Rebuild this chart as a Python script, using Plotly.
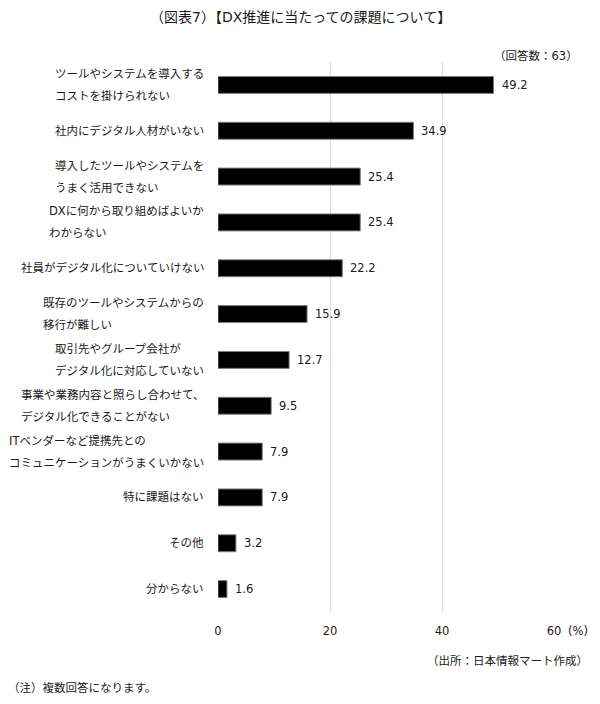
import plotly.graph_objects as go

categories = [
    "ツールやシステムを導入する\nコストを掛けられない",
    "社内にデジタル人材がいない",
    "導入したツールやシステムを\nうまく活用できない",
    "DXに何から取り組めばよいか\nわからない",
    "社員がデジタル化についていけない",
    "既存のツールやシステムからの\n移行が難しい",
    "取引先やグループ会社が\nデジタル化に対応していない",
    "事業や業務内容と照らし合わせて、\nデジタル化できることがない",
    "ITベンダーなど提携先との\nコミュニケーションがうまくいかない",
    "特に課題はない",
    "その他",
    "分からない",
]
values = [49.2, 34.9, 25.4, 25.4, 22.2, 15.9, 12.7, 9.5, 7.9, 7.9, 3.2, 1.6]
x_ticks = [0, 20, 40, 60]

FONT = "DejaVu Sans, Noto Sans CJK JP"
TXT = "#1a1a1a"
LBL = 11.5

fig = go.Figure()
fig.add_trace(go.Bar(
    y=list(range(len(values))), x=values, orientation="h",
    marker=dict(color="#000000", line=dict(color="#7f7f7f", width=1)),
    width=0.37, hoverinfo="skip",
))

ann = []
for i, (c, v) in enumerate(zip(categories, values)):
    lines = c.split("\n")
    text = "<br>".join(f"<span style='font-size:{LBL}px'>{ln}</span>" for ln in lines)
    ann.append(dict(x=0, y=i, xref="x", yref="y", text=text, showarrow=False,
                    xanchor="right", yanchor="middle", align="left", xshift=-12,
                    font=dict(family=FONT, size=16.9, color=TXT)))
    ann.append(dict(x=v, y=i, xref="x", yref="y", text=f"{v:.1f}", showarrow=False,
                    xanchor="left", yanchor="middle", xshift=6,
                    font=dict(family=FONT, size=LBL, color=TXT)))

ann += [
    dict(x=300, y=17, xanchor="center", yanchor="middle",
         text="（図表7）【DX推進に当たっての課題について】", showarrow=False,
         font=dict(family=FONT, size=14, color=TXT)),
    dict(x=580, y=56, xanchor="right", yanchor="middle",
         text="（回答数：63）", showarrow=False, font=dict(family=FONT, size=LBL, color=TXT)),
    dict(x=566, y=631, xanchor="left", yanchor="middle",
         text="(%)", showarrow=False, font=dict(family=FONT, size=LBL, color=TXT)),
    dict(x=590, y=661, xanchor="right", yanchor="middle",
         text="（出所：日本情報マート作成）", showarrow=False, font=dict(family=FONT, size=LBL, color=TXT)),
    dict(x=6, y=688, xanchor="left", yanchor="middle",
         text="（注）複数回答になります。", showarrow=False, font=dict(family=FONT, size=LBL, color=TXT)),
]
# convert pixel-placed notes to paper coords
W, H = 600, 704
L, R, T, B = 218, 46, 62, 92
pw, ph = W - L - R, H - T - B
for a in ann[-5:]:
    a["xref"] = "paper"; a["yref"] = "paper"
    a["x"] = (a["x"] - L) / pw
    a["y"] = 1 - (a["y"] - T) / ph

fig.update_layout(
    width=W, height=H, margin=dict(l=L, r=R, t=T, b=B),
    paper_bgcolor="white", plot_bgcolor="white", showlegend=False,
    font=dict(family=FONT, size=LBL, color=TXT),
    xaxis=dict(range=[0, 60], tickvals=x_ticks, ticktext=[str(t) for t in x_ticks],
               showgrid=True, gridcolor="#d9d9d9", gridwidth=1, zeroline=False,
               showline=False, ticks="outside", ticklen=8, tickcolor="rgba(0,0,0,0)",
               tickfont=dict(family=FONT, size=LBL, color=TXT), fixedrange=True),
    yaxis=dict(range=[len(values) - 0.5, -0.5], showticklabels=False, showgrid=False,
               zeroline=False, showline=False, fixedrange=True),
    annotations=ann,
)
fig.write_html("out.html")
